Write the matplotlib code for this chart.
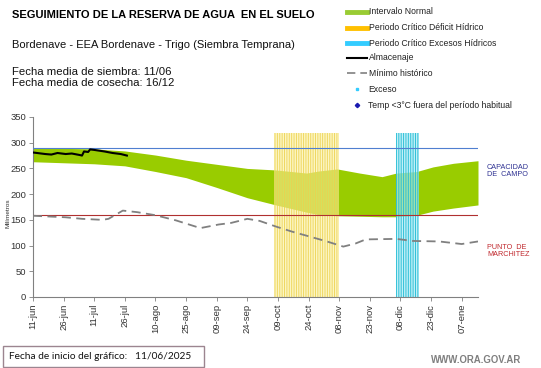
import matplotlib
matplotlib.use("Agg")
import matplotlib.pyplot as plt
from matplotlib.lines import Line2D
from matplotlib.patches import Rectangle
import pandas as pd

plt.rcParams['font.family'] = ['Liberation Sans', 'DejaVu Sans']
plt.rcParams['hatch.linewidth'] = 0.7

# ---------------- data ----------------
band_dates = ["2025-06-11", "2025-06-26", "2025-07-11", "2025-07-26", "2025-08-10",
              "2025-08-25", "2025-09-09", "2025-09-24", "2025-10-08", "2025-10-23",
              "2025-10-29", "2025-11-07", "2025-11-18", "2025-11-29", "2025-12-06",
              "2025-12-16", "2025-12-24", "2026-01-03", "2026-01-15"]
band_lower = [263, 261, 259, 255, 244, 232, 213, 193, 179, 165,
              160, 158, 157, 156, 156, 159, 167, 173, 179]
band_upper = [289, 289, 288, 284, 276, 266, 258, 250, 247, 241,
              245, 249, 241, 234, 241, 244, 253, 260, 265]

min_dates = ["2025-06-11", "2025-06-27", "2025-07-05", "2025-07-15", "2025-07-18",
             "2025-07-25", "2025-08-01", "2025-08-10", "2025-08-20", "2025-09-01",
             "2025-09-10", "2025-09-16", "2025-09-24", "2025-09-30", "2025-10-08",
             "2025-10-16", "2025-10-25", "2025-11-02", "2025-11-10", "2025-11-16",
             "2025-11-21", "2025-12-06", "2025-12-14", "2025-12-27", "2026-01-07",
             "2026-01-15"]
min_values = [158, 155, 152, 150, 152, 168, 165, 159, 149, 134,
              141, 144, 152, 148, 137, 127, 117, 108, 98, 104,
              112, 113, 109, 108, 103, 108]

alm_dates = ["2025-06-11", "2025-06-17", "2025-06-20", "2025-06-23", "2025-06-27",
             "2025-06-30", "2025-07-04", "2025-07-05", "2025-07-06", "2025-07-08",
             "2025-07-09", "2025-07-11", "2025-07-16", "2025-07-20", "2025-07-24",
             "2025-07-27"]
alm_values = [281, 278, 277, 280, 278, 279, 276, 275, 283, 282,
              287, 286, 283, 280, 278, 275]

capacidad_campo = 289
punto_marchitez = 160

deficit_start, deficit_end = "2025-10-07", "2025-11-08"
exceso_start, exceso_end = "2025-12-06", "2025-12-17"
critico_top = 318

tick_dates = ["2025-06-11", "2025-06-26", "2025-07-11", "2025-07-26", "2025-08-10",
              "2025-08-25", "2025-09-09", "2025-09-24", "2025-10-09", "2025-10-24",
              "2025-11-08", "2025-11-23", "2025-12-08", "2025-12-23", "2026-01-07"]
tick_labels = ["11-jun", "26-jun", "11-jul", "26-jul", "10-ago", "25-ago", "09-sep",
               "24-sep", "09-oct", "24-oct", "08-nov", "23-nov", "08-dic", "23-dic",
               "07-ene"]
x_start, x_end = "2025-06-11", "2026-01-15"

# ---------------- figure ----------------
W, H = 541, 368
fig = plt.figure(figsize=(W / 100, H / 100), dpi=100)
fig.patch.set_facecolor("white")

def fx(px):
    return px / W

def fy(py):
    return 1 - py / H

ax = fig.add_axes([fx(33), fy(297), fx(478) - fx(33), fy(117) - fy(297)])

bd = pd.to_datetime(band_dates)
ax.fill_between(bd, band_lower, band_upper, color="#99CC00", linewidth=0, zorder=1)

# critical periods (striped columns)
d0, d1 = pd.Timestamp(deficit_start), pd.Timestamp(deficit_end)
ax.bar(d0, critico_top, width=(d1 - d0), align="edge", facecolor=(0.98, 0.94, 0.62, 0.6),
       edgecolor=(0.93, 0.82, 0.30, 0.85), hatch="|||||||", linewidth=0, zorder=2)
e0, e1 = pd.Timestamp(exceso_start), pd.Timestamp(exceso_end)
ax.bar(e0, critico_top, width=(e1 - e0), align="edge", facecolor=(0.66, 0.92, 0.96, 0.7),
       edgecolor=(0.15, 0.74, 0.84, 0.95), hatch="|||||||", linewidth=0, zorder=2)

ax.axhline(capacidad_campo, color="#4F7FD0", linewidth=0.8, zorder=3)
ax.axhline(punto_marchitez, color="#B03030", linewidth=0.8, zorder=3)

ax.plot(pd.to_datetime(min_dates), min_values, color="#808080", linewidth=1.3,
        dashes=(5, 3), zorder=4)
ax.plot(pd.to_datetime(alm_dates), alm_values, color="black", linewidth=1.5, zorder=5)

ax.set_xlim(pd.Timestamp(x_start), pd.Timestamp(x_end))
ax.set_ylim(0, 350)
ax.set_yticks(range(0, 351, 50))
ax.set_xticks(pd.to_datetime(tick_dates))
ax.set_xticklabels(tick_labels, rotation=90)
ax.tick_params(axis="both", labelsize=6.8, colors="#333333", length=3, width=0.6,
               color="#808080", pad=2)
for s in ["top", "right"]:
    ax.spines[s].set_visible(False)
for s in ["left", "bottom"]:
    ax.spines[s].set_color("#808080")
    ax.spines[s].set_linewidth(0.8)

fig.text(fx(8), fy(213), "Milímetros", rotation=90, fontsize=4.6, ha="center",
         va="center", color="#333333")

# right side labels
fig.text(fx(487), fy(171), "CAPACIDAD\nDE  CAMPO", fontsize=5.2, color="#2E3192",
         ha="left", va="center", linespacing=1.1)
fig.text(fx(487), fy(251), "PUNTO  DE\nMARCHITEZ", fontsize=5.2, color="#C0282D",
         ha="left", va="center", linespacing=1.1)

# header texts
fig.text(fx(12), fy(15), "SEGUIMIENTO DE LA RESERVA DE AGUA  EN EL SUELO",
         fontsize=8.0, fontweight="bold", ha="left", va="center")
fig.text(fx(12), fy(45), "Bordenave - EEA Bordenave - Trigo (Siembra Temprana)",
         fontsize=8.05, ha="left", va="center", color="#111111")
fig.text(fx(12), fy(72), "Fecha media de siembra: 11/06", fontsize=8.2, ha="left",
         va="center", color="#111111")
fig.text(fx(12), fy(83), "Fecha media de cosecha: 16/12", fontsize=8.2, ha="left",
         va="center", color="#111111")

# legend (manual)
leg_rows = [12, 28, 43, 58, 73, 89, 105]
leg_labels = ["Intervalo Normal", "Periodo Crítico Déficit Hídrico",
              "Periodo Crítico Excesos Hídricos", "Almacenaje", "Mínimo histórico",
              "Exceso", "Temp <3°C fuera del período habitual"]
x0, x1 = fx(347), fx(367)
fig.add_artist(Line2D([x0, x1], [fy(leg_rows[0])] * 2, color="#99CC33", linewidth=3.5))
fig.add_artist(Line2D([x0, x1], [fy(leg_rows[1])] * 2, color="#FFC000", linewidth=3.5))
fig.add_artist(Line2D([x0, x1], [fy(leg_rows[2])] * 2, color="#33CCFF", linewidth=3.5))
fig.add_artist(Line2D([x0, x1], [fy(leg_rows[3])] * 2, color="black", linewidth=1.5))
fig.add_artist(Line2D([x0, x1], [fy(leg_rows[4])] * 2, color="#808080", linewidth=1.2,
                      dashes=(5, 3)))
fig.add_artist(Line2D([fx(357)], [fy(leg_rows[5])], marker="s", markersize=1.8,
                      color="#33CCFF", linestyle="none"))
fig.add_artist(Line2D([fx(357)], [fy(leg_rows[6])], marker="D", markersize=2.2,
                      color="#1A1AB0", linestyle="none"))
for i, (r, lab) in enumerate(zip(leg_rows, leg_labels)):
    xt = 369 if i < 5 else 368
    fig.text(fx(xt), fy(r), lab, fontsize=6.2, ha="left", va="center", color="#222222")

# bottom box
fig.add_artist(Rectangle((fx(3), fy(367)), fx(204) - fx(3), fy(346) - fy(367),
                         fill=False, edgecolor="#9C8590", linewidth=1.0,
                         transform=fig.transFigure))
fig.text(fx(9), fy(356.5), "Fecha de inicio del gráfico:   11/06/2025", fontsize=7.3,
         ha="left", va="center", color="#111111", family=["Lato", "DejaVu Sans"])
fig.text(fx(521), fy(360), "WWW.ORA.GOV.AR", fontsize=6.9, fontweight="bold",
         ha="right", va="center", color="#7F7F7F")

fig.savefig("out.png", dpi=100, facecolor="white")
